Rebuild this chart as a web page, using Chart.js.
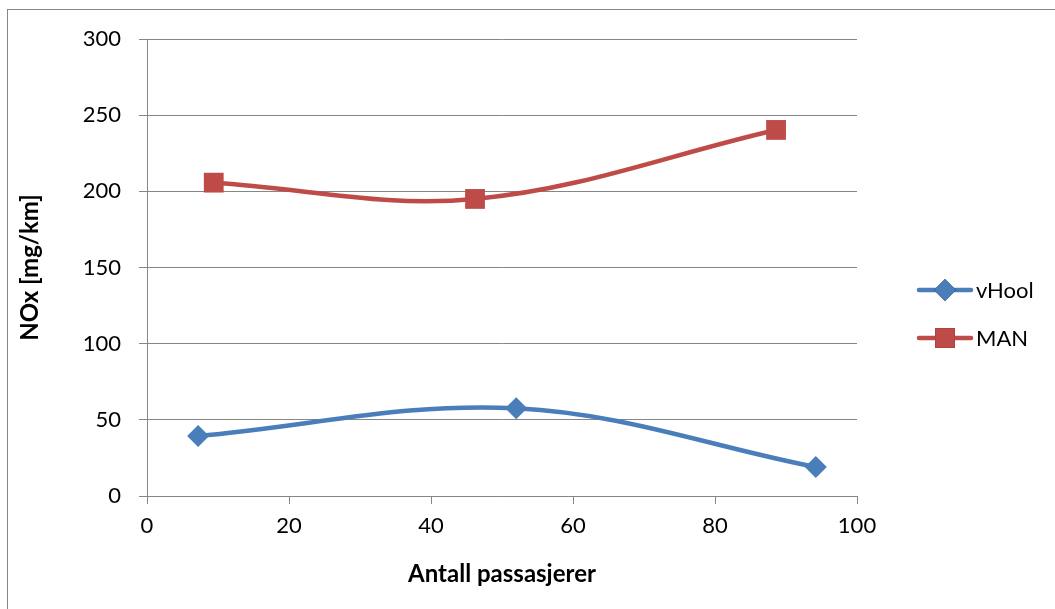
<!DOCTYPE html>
<html>
<head>
<meta charset="utf-8">
<script src="https://cdn.jsdelivr.net/npm/chart.js@4"></script>
<style>
  html, body { margin: 0; padding: 0; background: #fff; }
  #wrap { position: relative; width: 1055px; height: 609px; }
  #frame { position: absolute; left: 7px; top: 9px; width: 1060px; height: 620px; border: 1px solid #868686; box-sizing: border-box; }
  canvas { position: absolute; left: 0; top: 0; }
</style>
</head>
<body>
<div id="wrap">
  <div id="frame"></div>
  <canvas id="noxChart" width="1055" height="609"></canvas>
</div>
<script>
// Datos
const seriesNames = ['vHool', 'MAN'];
const vHoolX = [7.2, 52.0, 94.2];
const vHoolY = [39.4, 57.6, 19.0];
const manX = [9.4, 46.2, 88.6];
const manY = [205.7, 195.0, 240.3];
const xTicks = [0, 20, 40, 60, 80, 100];
const yTicks = [0, 50, 100, 150, 200, 250, 300];

const FONT = 'Lato, "Open Sans", sans-serif';
const GRID = '#868686';
const colors = { vHool: '#4a7ebb', MAN: '#be4b48' };
const markers = { vHool: 'rectRot', MAN: 'rect' };

function toPoints(xs, ys) {
    return xs.map((x, i) => ({ x: x, y: ys[i] }));
}

// Leyenda estilo Excel: línea + marcador
const excelLegend = {
    id: 'excelLegend',
    afterDraw(chart) {
        const ctx = chart.ctx;
        const startY = 290;
        chart.data.datasets.forEach((ds, i) => {
            const y = startY + i * 48;
            ctx.save();
            ctx.strokeStyle = ds.borderColor;
            ctx.lineWidth = 4.5;
            ctx.lineCap = 'round';
            ctx.beginPath();
            ctx.moveTo(919, y);
            ctx.lineTo(971, y);
            ctx.stroke();
            Chart.helpers.drawPoint(ctx, {
                pointStyle: ds.pointStyle,
                radius: ds.pointRadius,
                borderWidth: 0
            }, 945, y);
            ctx.fillStyle = ds.pointBackgroundColor;
            ctx.fill();
            ctx.fillStyle = '#000';
            ctx.font = '22px ' + FONT;
            ctx.textBaseline = 'middle';
            ctx.fillText(ds.label, 976, y + 1);
            ctx.restore();
        });
    }
};

function initChart() {
    const canvas = document.getElementById('noxChart');
    const datasets = [
        { label: seriesNames[0], data: toPoints(vHoolX, vHoolY) },
        { label: seriesNames[1], data: toPoints(manX, manY) }
    ].map(ds => ({
        ...ds,
        borderColor: colors[ds.label],
        backgroundColor: colors[ds.label],
        pointBackgroundColor: colors[ds.label],
        pointBorderColor: colors[ds.label],
        pointBorderWidth: 0,
        pointStyle: markers[ds.label],
        pointRadius: ds.label === 'MAN' ? 14 : 11,
        borderWidth: 4.5,
        tension: 0.36,
        fill: false
    }));

    new Chart(canvas.getContext('2d'), {
        type: 'scatter',
        data: { datasets: datasets },
        options: {
            responsive: false,
            animation: false,
            showLine: true,
            layout: { padding: { left: 8, top: 39, right: 198, bottom: 0 } },
            plugins: {
                legend: { display: false },
                tooltip: { enabled: false }
            },
            scales: {
                x: {
                    type: 'linear',
                    min: 0,
                    max: 100,
                    afterBuildTicks: s => { s.ticks = xTicks.map(v => ({ value: v })); },
                    afterFit: s => { s.height = 113; },
                    grid: { drawOnChartArea: false, color: GRID, tickLength: 8 },
                    border: { color: GRID, width: 1 },
                    ticks: { color: '#000', font: { family: FONT, size: 22 }, padding: 9, maxRotation: 0 },
                    title: {
                        display: true,
                        text: 'Antall passasjerer',
                        color: '#000',
                        font: { family: FONT, size: 24, weight: 'bold' },
                        padding: { top: 0, bottom: 20 }
                    }
                },
                y: {
                    type: 'linear',
                    min: 0,
                    max: 300,
                    afterBuildTicks: s => { s.ticks = yTicks.map(v => ({ value: v })); },
                    afterFit: s => { s.width = 139; },
                    grid: { color: GRID, tickLength: 8 },
                    border: { color: GRID, width: 1 },
                    ticks: { color: '#000', font: { family: FONT, size: 22 }, padding: 18 },
                    title: {
                        display: true,
                        text: 'NOx [mg/km]',
                        color: '#000',
                        font: { family: FONT, size: 24, weight: 'bold' },
                        padding: { top: 8, bottom: 0 }
                    }
                }
            }
        },
        plugins: [excelLegend]
    });
}

document.addEventListener('DOMContentLoaded', initChart);
</script>
</body>
</html>
